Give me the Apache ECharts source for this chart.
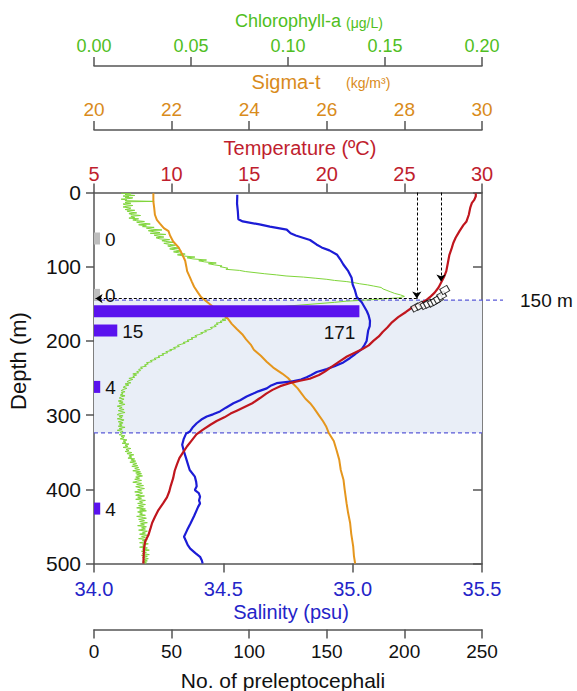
<!DOCTYPE html>
<html><head><meta charset="utf-8">
<script src="https://cdn.jsdelivr.net/npm/echarts@6/dist/echarts.min.js"></script>
<style>html,body{margin:0;padding:0;background:#fff}#c{width:577px;height:691px}</style>
</head><body><div id="c"></div>
<script>
// ---------- data (depth in m, value) ----------
const temperature = [[1,29.6],[5,29.6],[10,29.5],[14,29.35],[20,29.25],[30,29.15],[39,29.0],[44,28.8],[52,28.55],[61,28.3],[68,28.15],[75,28.05],[84,27.9],[95,27.8],[106,27.7],[114,27.55],[120,27.4],[128,27.2],[135,26.95],[140,26.7],[146,26.35],[150,26.0],[155,25.5],[161,25.1],[168,24.6],[175,24.2],[182,23.9],[188,23.6],[194,23.35],[200,23.0],[206,22.7],[211,22.3],[216,21.8],[221,21.3],[228,20.8],[235,20.3],[241,19.9],[246,19.5],[251,18.9],[254,18.2],[257,17.6],[261,17.0],[266,16.5],[271,16.1],[277,15.7],[284,15.2],[289,14.7],[294,14.2],[298,13.8],[303,13.4],[308,12.9],[313,12.5],[320,12.0],[326,11.6],[334,11.3],[342,11.0],[350,10.75],[358,10.5],[366,10.35],[375,10.2],[385,10.1],[395,9.95],[403,9.85],[411,9.7],[419,9.45],[428,9.15],[437,8.93],[445,8.75],[452,8.65],[462,8.5],[470,8.3],[480,8.22],[490,8.2],[500,8.18]];
const salinity = [[3,34.554],[15,34.553],[25,34.556],[36,34.558],[39,34.575],[43,34.64],[46,34.68],[50,34.745],[55,34.76],[58,34.78],[64,34.835],[70,34.86],[74,34.88],[78,34.91],[84,34.94],[90,34.952],[97,34.964],[106,34.983],[115,34.996],[124,35.0],[132,35.009],[141,35.016],[148,35.035],[154,35.045],[160,35.055],[166,35.062],[173,35.067],[180,35.066],[186,35.06],[193,35.057],[200,35.054],[206,35.045],[211,35.035],[215,35.02],[218,35.009],[223,34.99],[229,34.964],[234,34.93],[238,34.9],[242,34.861],[246,34.84],[249,34.822],[252,34.8],[255,34.758],[257,34.706],[260,34.685],[264,34.668],[268,34.635],[271,34.616],[275,34.59],[280,34.565],[284,34.539],[290,34.51],[295,34.487],[299,34.46],[302,34.436],[306,34.415],[311,34.397],[316,34.383],[322,34.371],[325,34.356],[332,34.347],[340,34.341],[348,34.347],[356,34.354],[365,34.362],[374,34.37],[383,34.39],[390,34.395],[396,34.397],[401,34.39],[405,34.405],[410,34.41],[415,34.406],[419,34.41],[424,34.402],[428,34.397],[436,34.387],[446,34.373],[455,34.36],[464,34.348],[470,34.356],[475,34.362],[480,34.372],[486,34.392],[491,34.41],[496,34.417],[500,34.42]];
const sigmaT = [[1,21.53],[12,21.53],[20,21.55],[30,21.57],[37,21.62],[42,21.7],[48,21.8],[52,21.92],[58,21.96],[66,22.04],[74,22.18],[83,22.27],[92,22.35],[100,22.38],[106,22.4],[114,22.47],[120,22.52],[127,22.58],[135,22.68],[141,22.76],[147,22.9],[152,23.02],[158,23.15],[164,23.3],[170,23.45],[177,23.55],[184,23.68],[191,23.82],[198,23.92],[205,24.04],[212,24.12],[220,24.3],[228,24.45],[236,24.62],[244,24.85],[250,25.0],[257,25.12],[264,25.25],[271,25.35],[278,25.45],[284,25.57],[290,25.66],[296,25.74],[302,25.82],[308,25.9],[315,25.98],[324,26.05],[335,26.18],[347,26.25],[360,26.32],[374,26.36],[387,26.43],[400,26.46],[419,26.51],[432,26.55],[445,26.6],[460,26.63],[477,26.68],[490,26.7],[500,26.73]];
const chlorophyll = [[1,0.014],[1.8,0.019],[2.5,0.016],[3.2,0.017],[4,0.021],[4.8,0.015],[5.5,0.018],[6.5,0.016],[7.2,0.02],[8,0.019],[9,0.014],[10,0.017],[11,0.016],[12,0.031],[12.5,0.017],
[13.5,0.016],[14.5,0.019],[15.5,0.015],[16.5,0.016],[17.5,0.02],[18.5,0.017],[19.5,0.015],[21,0.019],[22,0.018],[23,0.016],[24,0.021],[25,0.017],[26.5,0.019],[27.5,0.022],[28.5,0.018],[30,0.02],[31,0.024],[32,0.019],[33.5,0.021],[34.5,0.018],[35.5,0.023],[37,0.02],[38,0.022],
[39,0.026],[40,0.022],[41,0.024],[42.5,0.029],[43.5,0.023],[45,0.027],[46,0.025],[47,0.031],[48,0.027],[49.5,0.03],[50.5,0.035],[51.5,0.028],[53,0.031],[54,0.034],[55,0.029],[56.5,0.037],[57.5,0.031],[59,0.033],[60,0.036],[61,0.032],[62.5,0.034],[63.5,0.039],[65,0.035],[66,0.037],
[67,0.041],[68.5,0.036],[70,0.039],[71,0.042],[72,0.038],[73.5,0.04],[75,0.044],[76,0.039],[77.5,0.042],[79,0.045],[80,0.041],[81.5,0.044],[83,0.047],[84,0.043],[85.5,0.046],[87,0.052],[88,0.048],[89.5,0.051],[91,0.058],[92,0.054],[93.5,0.057],[95,0.063],[96,0.059],[97.5,0.062],[99,0.066],[100,0.065],
[102,0.069],[103.5,0.068],[105,0.075],[106.5,0.078],[108,0.083],[109.5,0.088],[111,0.094],[112.5,0.099],[114,0.108],[115.5,0.114],[117,0.12],[118.5,0.124],[120,0.13],[121.5,0.134],[123,0.137],[124.5,0.141],[126,0.144],[128,0.148],[130,0.149],[132,0.151],[134,0.153],[136,0.155],[138,0.158],[140,0.16],[142,0.157],[143.5,0.148],[145,0.14],[146.5,0.13],[148,0.124],[149.5,0.117],[153,0.1],[158,0.085],[163,0.074],[168,0.068],
[169.5,0.069],[171,0.066],[172,0.068],[173.5,0.065],[175,0.066],[176,0.063],[177.5,0.064],[179,0.062],[180.5,0.063],[182,0.06],[183,0.061],[184.5,0.06],[186,0.057],[187.5,0.058],[189,0.055],[190,0.056],[191.5,0.054],[193,0.052],[194.5,0.053],[196,0.05],[197.5,0.051],[199,0.048],[200.5,0.049],[202,0.046],[203,0.047],[204.5,0.045],[206,0.043],[207.5,0.044],[209,0.041],[210.5,0.042],[212,0.039],[213,0.04],[214.5,0.037],[216,0.038],[217.5,0.035],[219,0.036],[220.5,0.033],[222,0.034],[223.5,0.031],[225,0.032],[226.5,0.029],[228,0.03],[229.5,0.027],[231,0.028],[232.5,0.026],[234,0.027],[235.5,0.024],[237,0.025],[238.5,0.023],[240,0.024],[241.5,0.022],[243,0.023],[244.5,0.02],[246,0.022],[247.5,0.02],[249,0.021],[250.5,0.018],[252,0.02],[253.5,0.018],[255,0.017],[256.5,0.019],[258,0.016],[259.5,0.018],[261,0.016],[262.5,0.015],[264,0.017],[265.5,0.015],[267,0.014],[268.5,0.016],[270,0.014],
[271.5,0.015],[273,0.0135],[274,0.016],[275.5,0.014],[277,0.013],[278.5,0.0155],[280,0.014],[281,0.0125],[282.5,0.015],[284,0.013],[285.5,0.016],[287,0.0135],[288,0.012],[289.5,0.0145],[291,0.013],[292.5,0.0155],[294,0.0125],[295,0.014],[296.5,0.016],[298,0.013],[299.5,0.012],[301,0.015],[302,0.013],[303.5,0.0145],[305,0.012],[306.5,0.0155],[308,0.014],[309,0.0125],[310.5,0.015],[312,0.013],[313.5,0.0145],[315,0.0125],[316.5,0.016],[318,0.013],[319,0.0145],[320.5,0.012],[322,0.015],[323.5,0.0135],[325,0.0145],[326.5,0.013],[328,0.016],[329,0.014],[330.5,0.0155],[332,0.0135],[333.5,0.017],[335,0.015],[336.5,0.0165],[338,0.0145],[339,0.018],[340.5,0.016],[342,0.0175],[343.5,0.015],[345,0.019],[346.5,0.0165],[348,0.018],[349,0.016],[350.5,0.0195],[352,0.017],[353.5,0.0205],[355,0.018],[356.5,0.0195],[358,0.0175],[359,0.021],[360.5,0.019],[362,0.0215],[363.5,0.0185],[365,0.022],[366.5,0.02],[368,0.0225],[369,0.0195],[370.5,0.023],[372,0.021],[373.5,0.0235],[375,0.02],[376.5,0.024],[378,0.0215],[379,0.0245],[380.5,0.022],[382,0.025],[383.5,0.0215],[385,0.0235],[386.5,0.021],[388,0.0245],[389,0.0225],[390.5,0.02],[392,0.0245],[393.5,0.022],[395,0.0255],[396.5,0.0215],[398,0.024],[399,0.026],[400.5,0.0225],[402,0.0245],[403.5,0.021],[405,0.025],[406.5,0.0235],[408,0.0215],[409,0.026],[410.5,0.0225],[412,0.0245],[413.5,0.0215],[415,0.0265],[416.5,0.0235],[418,0.025],[419,0.0225],[420.5,0.0265],[422,0.023],[423.5,0.0255],[425,0.022],[426.5,0.0265],[428,0.0235],[429,0.027],[430.5,0.0225],[432,0.025],[433.5,0.0235],[435,0.0265],[436.5,0.022],[438,0.0255],[439,0.027],[440.5,0.023],[442,0.026],[443.5,0.0235],[445,0.0275],[446.5,0.024],[448,0.026],[449,0.0225],[450.5,0.027],[452,0.0245],[453.5,0.0265],[455,0.023],[456.5,0.0275],[458,0.025],[459,0.0265],[460.5,0.0235],[462,0.028],[463.5,0.0245],[465,0.0265],[466.5,0.023],[468,0.0275],[469,0.025],[470.5,0.027],[472,0.0235],[473.5,0.028],[475,0.025],[476.5,0.0265],[478,0.0235],[479,0.0275],[480.5,0.025],[482,0.0285],[483.5,0.0245],[485,0.027],[486.5,0.025],[488,0.0285],[489,0.0245],[490.5,0.0275],[492,0.025],[493.5,0.028],[495,0.0255],[496.5,0.0275],[498,0.025],[499,0.027],[500,0.0265]];
// preleptocephali counts at sampling depth (m)
const netDepths = [62, 138, 160, 186, 262, 426];
const netCounts = [0, 0, 171, 15, 4, 4];
// egg / marker points (temperature, depth)
const markerPoints = [[25.73,155],[26.0,152.5],[26.33,151.6],[26.54,149.9],[26.8,148.5],[27.0,146.2],[27.19,143.5],[27.4,139],[27.6,131.4]];
// arrows: temperature range and depth
const arrowTemps = [25.8, 27.36];
const arrowDepths = [143, 120];
// layer bounds (m)
const layerTop = 145, layerBottom = 324, layerLabel = '150 m';
// axis ranges [min, max, interval]
const tempRange = [5, 30, 5];
const sigmaRange = [20, 30, 2];
const chlRange = [0, 0.2, 0.05];
const salRange = [34.0, 35.5, 0.5];
const countRange = [0, 250, 50];
const depthRange = [0, 500, 100];

// ---------- chart ----------
const FONT = '"Liberation Sans", Arial, sans-serif';
const AX = '#555';
const C = {green:'#4fbe22', orange:'#d98b1b', red:'#bf1e2e', blue:'#2424c8'};
const L = {green:'#7fd53a', orange:'#e5961d', red:'#c0161e', blue:'#1c1cd6'};
const chart = echarts.init(document.getElementById('c'), null, {renderer:'svg'});

function xAx(pos, offset, r, color, size, margin, fmt){
  return {type:'value', position:pos, offset:offset, min:r[0], max:r[1], interval:r[2],
    axisLine:{show:true, onZero:false, lineStyle:{color:AX, width:1.5}},
    axisTick:{show:true, length:9, inside:false, lineStyle:{color:AX, width:1.5}},
    axisLabel:{color:color, fontSize:size, fontFamily:FONT, margin:margin, formatter:fmt},
    splitLine:{show:false}};
}
const swap = a => a.map(p => [p[1], p[0]]);

const option = {
  animation:false,
  grid:{left:94, right:95, top:192.5, bottom:127.5, containLabel:false, outerBoundsMode:'none'},
  xAxis:[
    xAx('top', 0, tempRange, C.red, 20, 9, v => String(v)),
    xAx('top', 62.5, sigmaRange, C.orange, 19, 11, v => String(v)),
    xAx('top', 126.5, chlRange, C.green, 18, 11, v => v.toFixed(2)),
    xAx('bottom', 0, salRange, C.blue, 20, 15, v => v.toFixed(1)),
    xAx('bottom', 66, countRange, '#111', 19, 12, v => String(v))
  ],
  yAxis:[
    {type:'value', inverse:true, min:depthRange[0], max:depthRange[1], interval:depthRange[2],
     axisLine:{show:true, onZero:false, lineStyle:{color:AX, width:1.5}},
     axisTick:{show:true, length:8, lineStyle:{color:AX, width:1.5}},
     axisLabel:{color:'#111', fontSize:21, fontFamily:FONT, margin:13},
     splitLine:{show:false}},
    {type:'value', inverse:true, position:'right', min:depthRange[0], max:depthRange[1], interval:depthRange[2],
     axisLine:{show:true, onZero:false, lineStyle:{color:AX, width:1.5}},
     axisTick:{show:true, inside:true, length:9, lineStyle:{color:AX, width:1.5}},
     axisLabel:{show:false}, splitLine:{show:false}}
  ],
  series:[
    { // layer shading + dashed bounds
      type:'custom', xAxisIndex:3, yAxisIndex:0, z:1, clip:false, silent:true,
      data:[[layerTop, layerBottom]],
      renderItem:(params, api) => {
        const t = api.value(0), b = api.value(1);
        const p0 = api.coord([salRange[0], t]), p1 = api.coord([salRange[1], b]);
        const dash = {stroke:'#5a5ad8', lineWidth:1.3, lineDash:[4,3]};
        return {type:'group', children:[
          {type:'rect', shape:{x:p0[0], y:p0[1], width:p1[0]-p0[0], height:p1[1]-p0[1]}, style:{fill:'#e9eef7'}},
          {type:'line', shape:{x1:p0[0], y1:p0[1], x2:p1[0]+21, y2:p0[1]}, style:dash},
          {type:'line', shape:{x1:p0[0], y1:p1[1], x2:p1[0], y2:p1[1]}, style:dash},
          {type:'text', style:{text:layerLabel, x:p1[0]+38, y:p0[1], fill:'#111', font:'19px '+FONT, align:'left', verticalAlign:'middle'}}
        ]};
      }
    },
    {name:'Chlorophyll-a', type:'line', xAxisIndex:2, yAxisIndex:0, z:3, data:swap(chlorophyll), showSymbol:false, lineStyle:{color:L.green, width:1}},
    {name:'Sigma-t', type:'line', xAxisIndex:1, yAxisIndex:0, z:3, data:swap(sigmaT), showSymbol:false, lineStyle:{color:L.orange, width:2}},
    {name:'Salinity', type:'line', xAxisIndex:3, yAxisIndex:0, z:3, data:swap(salinity), showSymbol:false, lineStyle:{color:L.blue, width:2.2}},
    {name:'Temperature', type:'line', xAxisIndex:0, yAxisIndex:0, z:3, data:swap(temperature), showSymbol:false, lineStyle:{color:L.red, width:2.2}},
    { // bars
      type:'custom', xAxisIndex:4, yAxisIndex:0, z:5,
      data: netDepths.map((d,i) => [netCounts[i], d]),
      encode:{x:0, y:1},
      renderItem:(params, api) => {
        const c = api.value(0), d = api.value(1);
        const s = api.coord([0, d]), e = api.coord([c, d]);
        const w = c > 0 ? e[0]-s[0] : 6;
        const big = c > 100;
        return {type:'group', children:[
          {type:'rect', shape:{x:s[0], y:s[1]-6, width:w, height:12}, style:{fill: c>0 ? '#5a12ee' : '#bdbdbd'}},
          {type:'text', style:{text:String(c), x: big ? s[0]+w-4 : s[0]+w+5, y: big ? s[1]+21 : s[1]+1,
            fill:'#111', font:'19px '+FONT, align: big ? 'right' : 'left', verticalAlign:'middle'}}
        ]};
      }
    },
    { // arrows
      type:'lines', coordinateSystem:'cartesian2d', xAxisIndex:0, yAxisIndex:0, z:6,
      symbol:['none','arrow'], symbolSize:7,
      lineStyle:{color:'#000', width:1, type:[3,2], opacity:1},
      data:[
        {coords:[[arrowTemps[0], depthRange[0]], [arrowTemps[0], arrowDepths[0]]]},
        {coords:[[arrowTemps[1], depthRange[0]], [arrowTemps[1], arrowDepths[1]]]},
        {coords:[[arrowTemps[0], arrowDepths[0]], [tempRange[0]+0.1, arrowDepths[0]]]}
      ]
    },
    {type:'scatter', xAxisIndex:0, yAxisIndex:0, z:7, data:markerPoints, symbol:'rect', symbolSize:[8,6], symbolRotate:30,
     itemStyle:{color:'#fff', borderColor:'#000', borderWidth:1}}
  ],
  graphic:[
    {type:'text', x:288, y:21, style:{text:'Chlorophyll-a', fill:C.green, font:'18px '+FONT, align:'center', verticalAlign:'middle'}},
    {type:'text', x:346, y:23, style:{text:'(μg/L)', fill:C.green, font:'14px '+FONT, align:'left', verticalAlign:'middle'}},
    {type:'text', x:286, y:82, style:{text:'Sigma-t', fill:C.orange, font:'20px '+FONT, align:'center', verticalAlign:'middle'}},
    {type:'text', x:346, y:83, style:{text:'(kg/m³)', fill:C.orange, font:'14px '+FONT, align:'left', verticalAlign:'middle'}},
    {type:'text', x:300, y:148, style:{text:'Temperature (ºC)', fill:C.red, font:'20px '+FONT, align:'center', verticalAlign:'middle'}},
    {type:'text', x:291, y:612, style:{text:'Salinity (psu)', fill:C.blue, font:'20px '+FONT, align:'center', verticalAlign:'middle'}},
    {type:'text', x:283, y:680, style:{text:'No. of preleptocephali', fill:'#111', font:'21px '+FONT, align:'center', verticalAlign:'middle'}},
    {type:'text', x:18.5, y:361, rotation:Math.PI/2, style:{text:'Depth (m)', fill:'#111', font:'22px '+FONT, align:'center', verticalAlign:'middle'}}
  ]
};
chart.setOption(option);
</script></body></html>
